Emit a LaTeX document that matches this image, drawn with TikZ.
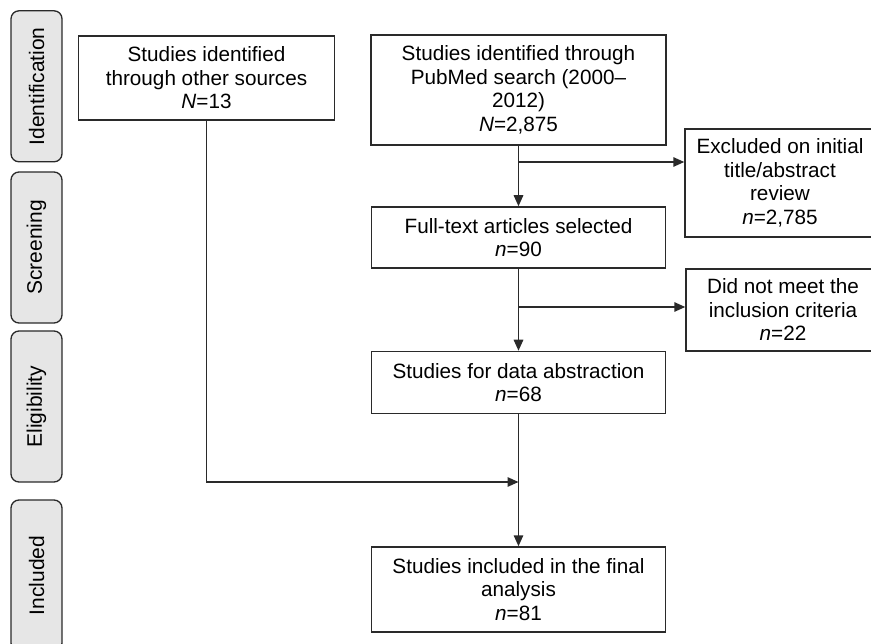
\documentclass[tikz,border=0pt]{standalone}
\usepackage{fontspec}
\setmainfont{Liberation Sans}
\usetikzlibrary{arrows.meta}
\definecolor{linegray}{HTML}{2A2A2A}
\definecolor{sidefill}{HTML}{E6E6E6}
\begin{document}
\begin{tikzpicture}[x=1pt,y=-1pt,
  box/.style={draw=linegray, line width=1.5pt, fill=white, inner sep=0pt, align=center,
    font=\fontsize{20.7}{23.5}\selectfont},
  side/.style={draw=linegray, line width=1.3pt, fill=sidefill, rounded corners=8pt, rotate=90,
    inner sep=0pt, minimum height=51pt, minimum width=151pt,
    font=\fontsize{21}{24}\selectfont},
  conn/.style={draw=linegray, line width=1.5pt},
  arr/.style={conn, -{Triangle[length=11pt,width=9.5pt]}}
]
\useasboundingbox (0,0) rectangle (871,644);

% side labels
\node[side] (sid) at (36.5,86.3) {Identification};
\node[side] (sscr) at (36.5,247.5) {Screening};
\node[side] (selig) at (36.5,406.5) {Eligibility};
\node[side] (sinc) at (36.5,575.5) {Included};

% boxes
\node[box, minimum width=256pt, minimum height=84pt] (other) at (206.5,78)
  {Studies identified\\through other sources\\\textit{N}=13};
\node[box, minimum width=295pt, minimum height=110pt] (pubmed) at (518.5,90)
  {Studies identified through\\PubMed search (2000--\\2012)\\\textit{N}=2,875};
\node[box, minimum width=190pt, minimum height=108pt] (excl) at (780,183)
  {Excluded on initial\\title/abstract\\review\\\textit{n}=2,785};
\node[box, minimum width=294pt, minimum height=61pt] (full) at (518.5,237.5)
  {Full-text articles selected\\\textit{n}=90};
\node[box, minimum width=194pt, minimum height=82pt] (notmet) at (783,310)
  {Did not meet the\\inclusion criteria\\\textit{n}=22};
\node[box, minimum width=294pt, minimum height=62pt] (abs) at (518.5,382.5)
  {Studies for data abstraction\\\textit{n}=68};
\node[box, minimum width=294pt, minimum height=85pt] (final) at (518.5,589.5)
  {Studies included in the final\\analysis\\\textit{n}=81};

% junction points
\coordinate (j1) at (518.5,162);
\coordinate (j2) at (518.5,307);
\coordinate (j3) at (518.5,482);

% connectors
\draw[arr] (pubmed.south) -- (full.north);
\draw[arr] (j1) -- (j1 -| excl.west);
\draw[arr] (full.south) -- (abs.north);
\draw[arr] (j2) -- (j2 -| notmet.west);
\draw[arr] (abs.south) -- (final.north);
\draw[arr] (other.south) |- (j3);
\end{tikzpicture}
\end{document}
